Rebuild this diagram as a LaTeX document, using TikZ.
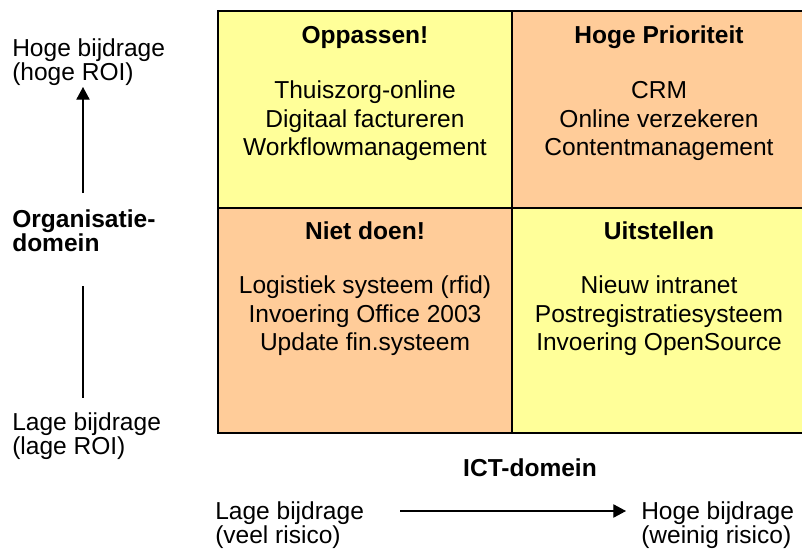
\documentclass[tikz,border=0pt]{standalone}
\usepackage{fontspec}
\setmainfont{Liberation Sans}
\usetikzlibrary{arrows.meta}
\definecolor{yel}{HTML}{FFFF99}
\definecolor{ora}{HTML}{FFCC99}
\begin{document}
\begin{tikzpicture}[x=0.75pt,y=-0.75pt,
  celltxt/.style={font=\fontsize{18.4}{21.4}\selectfont, inner sep=0pt, align=center},
  celltitle/.style={font=\fontsize{18.4}{21.4}\selectfont\bfseries, inner sep=0pt, anchor=base},
  lbl/.style={font=\fontsize{18.4}{16.5}\selectfont, inner sep=0pt, align=left, anchor=west},
  grid/.style={draw=black, line width=1.5pt},
  axis/.style={draw=black, line width=0.9pt},
  tip/.style={-{Triangle[length=9.5pt,width=10pt]}}
]
\useasboundingbox (0,0) rectangle (802,554);
% cells
\path[fill=yel] (218,10.5) rectangle (512,207.5);
\path[fill=ora] (512,10.5) rectangle (806,207.5);
\path[fill=ora] (218,207.5) rectangle (512,433);
\path[fill=yel] (512,207.5) rectangle (806,433);
\draw[grid] (218,10.5) rectangle (806,433);
\draw[grid] (512,10.5) -- (512,433);
\draw[grid] (218,207.5) -- (806,207.5);
% cell texts
\node[celltitle] (t1) at (365,43) {Oppassen!};
\node[celltitle] (t2) at (659,43) {Hoge Prioriteit};
\node[celltitle] (t3) at (365,239) {Niet doen!};
\node[celltitle] (t4) at (659,239) {Uitstellen};
\node[celltxt] (c1) at (365,121) {Thuiszorg-online\\Digitaal factureren\\Workflowmanagement};
\node[celltxt] (c2) at (659,121) {CRM\\Online verzekeren\\Contentmanagement};
\node[celltxt] (c3) at (365,316) {Logistiek systeem (rfid)\\Invoering Office 2003\\Update fin.systeem};
\node[celltxt] (c4) at (659,316) {Nieuw intranet\\Postregistratiesysteem\\Invoering OpenSource};
% left axis
\node[lbl] (hb) at (12,62) {Hoge bijdrage\\(hoge ROI)};
\node[lbl, font=\fontsize{18.4}{16.5}\selectfont\bfseries] (od) at (12,231) {Organisatie-\\domein};
\node[lbl] (lb) at (12,436) {Lage bijdrage\\(lage ROI)};
\coordinate (va) at (83,193);
\coordinate (vb) at (83,87);
\coordinate (vc) at (83,286);
\coordinate (vd) at (83,398);
\draw[axis, tip] (va) -- (vb);
\draw[axis] (vc) -- (vd);
% bottom axis
\node[font=\fontsize{18.4}{21.4}\selectfont\bfseries, inner sep=0pt] (ict) at (530,468) {ICT-domein};
\node[lbl] (lr) at (215,525) {Lage bijdrage\\(veel risico)};
\node[lbl] (hr) at (641,525) {Hoge bijdrage\\(weinig risico)};
\coordinate (ha) at (400,511);
\coordinate (hb2) at (626,511);
\draw[axis, tip] (ha) -- (hb2);
\end{tikzpicture}
\end{document}
